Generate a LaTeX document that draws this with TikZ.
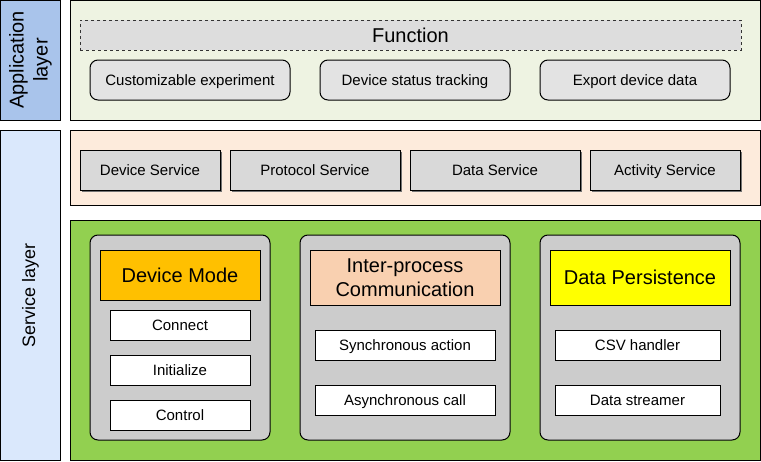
\documentclass[tikz,border=0pt]{standalone}
\usepackage{fontspec}
\setmainfont{Liberation Sans}
\usetikzlibrary{positioning,shadows}

\definecolor{appblue}{HTML}{A9C4EB}
\definecolor{srvblue}{HTML}{DAE8FC}
\definecolor{appback}{HTML}{EEF3E2}
\definecolor{srvback}{HTML}{FDEBDC}
\definecolor{modback}{HTML}{92D050}
\definecolor{funcgray}{HTML}{DDDDDD}
\definecolor{boxgray}{HTML}{E3E3E3}
\definecolor{srvgray}{HTML}{D9D9D9}
\definecolor{groupgray}{HTML}{CCCCCC}
\definecolor{devorange}{HTML}{FFC000}
\definecolor{ipcpeach}{HTML}{F9D0B0}
\definecolor{dpyellow}{HTML}{FFFF00}

\begin{document}
\begin{tikzpicture}[x=1pt, y=-1pt, line width=1pt,
	every node/.style={outer sep=0pt},
	side/.style={rectangle, draw=black, rotate=90, align=center, inner sep=0pt, minimum height=60pt},
	panel/.style={rectangle, draw=black, anchor=north west, inner sep=0pt, minimum width=690pt},
	func/.style={rectangle, rounded corners=8pt, draw=black, fill=boxgray, text centered, minimum height=40pt, inner sep=0pt,
		text height=12pt, text depth=1pt, font=\fontsize{15}{18}\selectfont},
	srv/.style={rectangle, draw=black, fill=srvgray, text centered, minimum height=40pt, inner sep=0pt,
		text height=12pt, text depth=1pt, font=\fontsize{15}{18}\selectfont,
		drop shadow={shadow xshift=2pt, shadow yshift=-2pt, fill=black!55, opacity=1}},
	group/.style={rectangle, rounded corners=8pt, draw=black, fill=groupgray, minimum height=205pt, inner sep=0pt},
	head/.style={rectangle, draw=black, align=center, inner sep=0pt, font=\fontsize{20}{24}\selectfont},
	item/.style={rectangle, draw=black, fill=white, text centered, minimum height=30pt, inner sep=0pt,
		text height=12pt, text depth=1pt, font=\fontsize{15}{18}\selectfont}
	]

	\useasboundingbox (0,0) rectangle (761,461);

	% layer labels
	\node (applayer) [side, fill=appblue, minimum width=120pt, font=\fontsize{20}{24}\selectfont] at (30.5,60) {Application\\layer};
	\node (srvlayer) [side, fill=srvblue, minimum width=330pt, font=\fontsize{18}{22}\selectfont] at (30.5,295) {Service layer};

	% application layer
	\node (apppanel) [panel, fill=appback, minimum height=120pt] at (70,0) {};

		\node (function) [rectangle, draw=black!80, dashed, line width=0.8pt, fill=funcgray, anchor=north west, inner sep=0pt,
			minimum width=661pt, minimum height=30pt, font=\fontsize{20}{24}\selectfont] at (80,20) {Function};

		\node (custom) [func, anchor=north west, minimum width=200pt] at (90,60) {Customizable experiment};
		\node (tracking) [func, minimum width=190pt, right=30pt of custom] {Device status tracking};
		\node (export) [func, minimum width=190pt, right=30pt of tracking] {Export device data};

	% service layer
	\node (srvpanel) [panel, fill=srvback, minimum height=75pt] at (70,130) {};

		\node (devsrv) [srv, anchor=north west, minimum width=140pt] at (80,150) {Device Service};
		\node (protosrv) [srv, minimum width=170pt, right=10pt of devsrv] {Protocol Service};
		\node (datasrv) [srv, minimum width=170pt, right=10pt of protosrv] {Data Service};
		\node (actsrv) [srv, minimum width=150pt, right=10pt of datasrv] {Activity Service};

	\node (modpanel) [panel, fill=modback, minimum height=240pt] at (70,220) {};

		\node (devgroup) [group, anchor=north west, minimum width=180pt] at (90,235) {};
		\node (ipcgroup) [group, minimum width=210pt, right=30pt of devgroup] {};
		\node (dpgroup) [group, minimum width=200pt, right=30pt of ipcgroup] {};

		\node (devmode) [head, fill=devorange, minimum width=160pt, minimum height=50pt, below=15pt of devgroup.north] {Device Mode};
		\node (ipc) [head, fill=ipcpeach, minimum width=190pt, minimum height=55pt, below=15pt of ipcgroup.north] {Inter-process\\Communication};
		\node (dp) [head, fill=dpyellow, minimum width=180pt, minimum height=55pt, below=15pt of dpgroup.north] {Data Persistence};

		\node (connect) [item, minimum width=140pt, below=10pt of devmode] {Connect};
		\node (init) [item, minimum width=140pt, below=15pt of connect] {Initialize};
		\node (control) [item, minimum width=140pt, below=15pt of init] {Control};

		\node (sync) [item, minimum width=180pt, below=25pt of ipc] {Synchronous action};
		\node (async) [item, minimum width=180pt, below=25pt of sync] {Asynchronous call};

		\node (csv) [item, minimum width=165pt, below=25pt of dp, xshift=-2.5pt] {CSV handler};
		\node (streamer) [item, minimum width=165pt, below=25pt of csv] {Data streamer};

\end{tikzpicture}
\end{document}
